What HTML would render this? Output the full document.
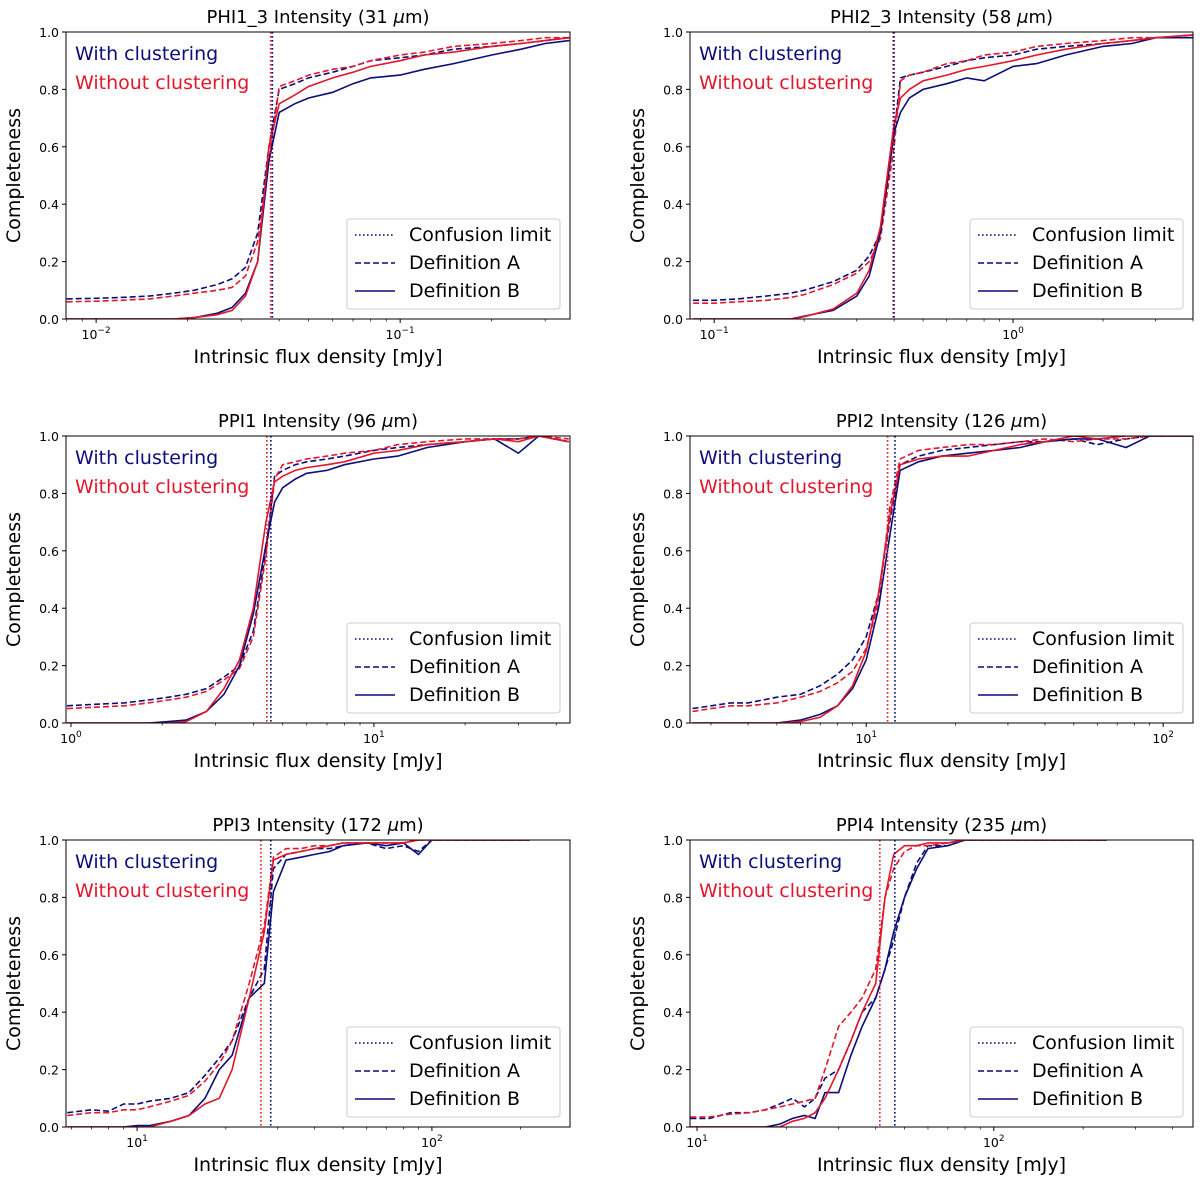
<!DOCTYPE html>
<html><head><meta charset="utf-8">
<style>
html,body{margin:0;padding:0;background:#fff;}
svg{display:block;font-family:"DejaVu Sans","Liberation Sans",sans-serif;}
</style></head>
<body>
<svg id="fig" width="1200" height="1181" viewBox="0 0 1200 1181" xmlns="http://www.w3.org/2000/svg"></svg>
<script>
const panelNames=["PHI1_3 Intensity (31 ","PHI2_3 Intensity (58 ","PPI1 Intensity (96 ","PPI2 Intensity (126 ","PPI3 Intensity (172 ","PPI4 Intensity (235 "];
const xDomains=[[0.00796,0.362],[0.083,4.0],[0.963,44.4],[2.55,126],[5.74,294],[9.47,469]];
const majorTicks=[[-2,-1],[-1,0],[0,1],[1,2],[1,2],[1,2]];
const confBlue=[0.038,0.40,4.57,12.5,28.4,46.4];
const confRed=[0.0375,0.397,4.43,11.8,26.3,41.3];
const yTicks=[0,0.2,0.4,0.6,0.8,1.0];

const xs1=[0.008,0.01,0.012,0.015,0.018,0.021,0.025,0.028,0.031,0.034,0.037,0.04,0.045,0.05,0.06,0.07,0.08,0.1,0.12,0.15,0.2,0.25,0.3,0.36];
const bA1=[.07,.072,.075,.08,.09,.1,.12,.14,.18,.3,.6,.8,.82,.84,.86,.88,.9,.91,.92,.94,.95,.96,.97,.98];
const rA1=[.06,.062,.065,.07,.08,.09,.1,.11,.15,.27,.55,.81,.83,.85,.87,.88,.9,.92,.93,.95,.96,.97,.98,.98];
const bB1=[0,0,0,0,0,.005,.02,.04,.09,.2,.55,.72,.75,.77,.79,.82,.84,.85,.87,.89,.92,.94,.96,.97];
const rB1=[0,0,0,0,0,.005,.015,.03,.08,.2,.6,.75,.78,.81,.84,.86,.88,.9,.92,.93,.95,.96,.97,.98];

const xs2=[0.085,0.1,0.12,0.15,0.18,0.2,0.25,0.3,0.33,0.36,0.4,0.42,0.45,0.5,0.6,0.7,0.8,1,1.2,1.5,2,2.5,3,4];
const bA2=[.065,.065,.07,.08,.09,.1,.13,.17,.22,.3,.65,.84,.85,.86,.88,.9,.91,.92,.94,.95,.96,.97,.98,.98];
const rA2=[.055,.055,.06,.065,.075,.085,.12,.16,.2,.28,.6,.83,.85,.86,.89,.9,.92,.93,.95,.96,.97,.98,.98,.99];
const bB2=[0,0,0,0,0,.01,.03,.08,.15,.3,.65,.72,.77,.8,.82,.84,.83,.88,.89,.92,.95,.96,.98,.98];
const rB2=[0,0,0,0,0,.008,.035,.09,.17,.32,.68,.77,.8,.83,.85,.87,.88,.9,.92,.94,.96,.97,.98,.99];

const xs3=[0.97,1.2,1.5,1.8,2.1,2.4,2.8,3.2,3.6,4,4.4,4.7,5,5.5,6,7,8,10,12,15,20,25,30,35,44];
const bA3=[.06,.065,.07,.08,.09,.1,.12,.16,.2,.32,.6,.86,.88,.9,.91,.92,.93,.95,.96,.97,.98,.99,.99,1,.98];
const rA3=[.05,.055,.06,.07,.08,.09,.11,.15,.19,.3,.58,.85,.9,.91,.92,.93,.94,.95,.97,.98,.99,.99,.99,1,.99];
const bB3=[0,0,0,0,.005,.01,.04,.1,.2,.38,.62,.77,.82,.85,.87,.88,.9,.92,.93,.96,.98,.99,.94,1,.98];
const rB3=[0,0,0,0,0,.005,.04,.12,.22,.4,.7,.84,.86,.88,.89,.9,.91,.94,.95,.97,.98,.99,.98,1,.98];

const xs4=[2.6,3,3.5,4,5,6,7,8,9,10,11,12,13,15,18,22,27,33,40,50,60,75,90,110,126];
const bA4=[.05,.06,.07,.07,.09,.1,.13,.17,.22,.3,.45,.7,.9,.93,.95,.96,.97,.98,.98,.99,.97,.99,1,1,1];
const rA4=[.04,.05,.06,.06,.07,.09,.11,.14,.18,.26,.42,.75,.92,.95,.96,.97,.97,.98,.99,.98,.99,.99,1,1,1];
const bB4=[0,0,0,0,0,.01,.03,.06,.12,.22,.4,.65,.88,.91,.93,.94,.95,.96,.98,.99,.99,.96,1,1,1];
const rB4=[0,0,0,0,0,.005,.02,.06,.13,.25,.45,.72,.9,.92,.93,.93,.95,.97,.98,1,.99,1,1,1,1];

const xs5=[5.8,7,8,9,10,11,13,15,17,19,21,24,27,29,32,36,40,45,50,60,70,80,90,100,150,214];
const bA5=[.05,.06,.055,.08,.08,.09,.1,.12,.18,.24,.3,.45,.55,.9,.95,.96,.97,.97,.98,.99,.97,.98,.96,1,1,1];
const bB5=[0,0,0,0,.005,.005,.02,.04,.1,.2,.25,.45,.5,.82,.93,.94,.95,.96,.98,.99,.98,.99,.95,1,1,1];
const rA5=[.04,.05,.05,.06,.06,.07,.09,.11,.16,.22,.3,.5,.7,.94,.97,.97,.98,.98,.99,.99,.99,.99,1,1,1,1];
const rB5=[0,0,0,0,0,0,.02,.04,.08,.1,.2,.45,.68,.93,.95,.96,.97,.98,.99,.99,.99,.99,1,1,1,1];

const xs6=[9.5,11,13,15,17,19,21,23,25,27,30,33,36,40,43,46,50,55,60,70,80,100,150,240];
const bA6=[.03,.03,.05,.05,.06,.08,.1,.07,.1,.17,.2,.3,.4,.45,.55,.65,.8,.92,.98,.98,1,1,1,1];
const bB6=[0,0,0,0,0,.01,.03,.04,.03,.12,.12,.25,.35,.45,.55,.68,.8,.9,.97,.98,1,1,1,1];
const rA6=[.035,.035,.045,.05,.06,.07,.08,.09,.1,.2,.35,.4,.45,.55,.8,.9,.96,.98,.98,.99,1,1,1,1];
const rB6=[0,0,0,0,0,0,.02,.03,.05,.1,.2,.3,.4,.5,.8,.95,.98,.98,.99,.99,1,1,1,1];

const panelX=[xs1,xs2,xs3,xs4,xs5,xs6];
const panelBA=[bA1,bA2,bA3,bA4,bA5,bA6];
const panelBB=[bB1,bB2,bB3,bB4,bB5,bB6];
const panelRA=[rA1,rA2,rA3,rA4,rA5,rA6];
const panelRB=[rB1,rB2,rB3,rB4,rB5,rB6];

const BLUE="#0c0c7a", RED="#e3172b";
const NS="http://www.w3.org/2000/svg";
const svg=document.getElementById('fig');
function mk(tag,attrs,parent){const e=document.createElementNS(NS,tag);for(const k in attrs)e.setAttribute(k,attrs[k]);(parent||svg).appendChild(e);return e;}

const lefts=[66,690], tops=[32,436,840], H=287;
for(let p=0;p<6;p++){
  const x0=lefts[p%2], y0=tops[Math.floor(p/2)], w=(p%2?503:504);
  const [d0,d1]=xDomains[p];
  const l0=Math.log10(d0), l1=Math.log10(d1);
  const X=v=>x0+(Math.log10(v)-l0)/(l1-l0)*w;
  const Y=v=>y0+H-v*H;
  const g=mk('g',{});
  
  
  const clipId='clip'+p;
  const cp=mk('clipPath',{id:clipId},g); mk('rect',{x:x0,y:y0,width:w,height:H},cp);
  const t=mk('text',{x:x0+w/2,y:y0-9,'text-anchor':'middle','font-size':18,fill:'#000'},g);
  
  
  const t1=mk('tspan',{},t);t1.textContent=panelNames[p];
  const t2=mk('tspan',{'font-style':'italic'},t);t2.textContent='μ';
  const t3=mk('tspan',{},t);t3.textContent='m)';
  yTicks.forEach(v=>{
    mk('line',{x1:x0-4,x2:x0,y1:Y(v),y2:Y(v),stroke:'#000','stroke-width':1},g);
    const tl=mk('text',{x:x0-7,y:Y(v)+5,'text-anchor':'end','font-size':12.5},g);
    tl.textContent=v.toFixed(1);
    
    
  });
  for(let dec=Math.floor(l0);dec<=Math.ceil(l1);dec++){
    for(let m=1;m<10;m++){
      const v=m*Math.pow(10,dec); const lv=Math.log10(v);
      if(lv<l0-1e-9||lv>l1+1e-9)continue;
      const px=X(v);
      mk('line',{x1:px,x2:px,y1:y0+H,y2:y0+H+(m===1?4:2.5),stroke:'#000','stroke-width':(m===1?1:0.7)},g);
    }
  }
  majorTicks[p].forEach(e=>{
    const px=X(Math.pow(10,e));
    const tl=mk('text',{x:px,y:y0+H+20,'text-anchor':'middle','font-size':12.5},g);
    
    
    const a=mk('tspan',{},tl);a.textContent='10';
    const b=mk('tspan',{dy:-6,'font-size':9},tl);b.textContent=String(e).replace('-','−');
  });
  const xl=mk('text',{x:x0+w/2,y:y0+H+44,'text-anchor':'middle','font-size':19},g);
  xl.textContent='Intrinsic flux density [mJy]';
  
  
  const yl=mk('text',{x:0,y:0,'text-anchor':'middle','font-size':19,transform:`translate(${x0-46},${y0+H/2}) rotate(-90)`},g);
  yl.textContent='Completeness';
  
  
  const data=g.appendChild(document.createElementNS(NS,'g'));
  data.setAttribute('clip-path',`url(#${clipId})`);
  const series=[[panelBA[p],BLUE,'6,3','blue-definition-a'],[panelRA[p],RED,'6,3','red-definition-a'],[panelBB[p],BLUE,null,'blue-definition-b'],[panelRB[p],RED,null,'red-definition-b']];
  series.forEach(([ys,col,dash,name])=>{
    const pts=panelX[p].slice(0,ys.length).map((xv,i)=>X(xv).toFixed(1)+','+Y(ys[i]).toFixed(1)).join(' ');
    const pl=mk('polyline',{points:pts,fill:'none',stroke:col,'stroke-width':1.6},data);
    if(dash)pl.setAttribute('stroke-dasharray',dash);
    
    
  });
  [[confRed[p],RED,'confusion-limit-red'],[confBlue[p],BLUE,'confusion-limit-blue']].forEach(([v,col,name])=>{
    const l=mk('line',{x1:X(v),x2:X(v),y1:y0,y2:y0+H,stroke:col,'stroke-width':1.6,'stroke-dasharray':'1.6,2.4'},data);
    
    
  });
  mk('rect',{x:x0,y:y0,width:w,height:H,fill:'none',stroke:'#000','stroke-width':1},g);
  const wc=mk('text',{x:x0+9,y:y0+28,'font-size':19,fill:BLUE},g);wc.textContent='With clustering';
  
  
  const wo=mk('text',{x:x0+9,y:y0+57,'font-size':19,fill:RED},g);wo.textContent='Without clustering';
  
  
  const lg=mk('g',{},g);
  
  
  const lx=x0+w-223, ly=y0+H-100;
  mk('rect',{x:lx,y:ly,width:213,height:90,rx:3,fill:'#fff',stroke:'#ccc','stroke-width':1},lg);
  [['Confusion limit','1.6,2.4'],['Definition A','6,3'],['Definition B',null]].forEach(([lab,dash],i)=>{
    const yy=ly+16+i*28;
    const ln=mk('line',{x1:lx+8,x2:lx+48,y1:yy,y2:yy,stroke:BLUE,'stroke-width':1.6},lg);
    if(dash)ln.setAttribute('stroke-dasharray',dash);
    const tx=mk('text',{x:lx+62,y:yy+6,'font-size':19},lg);tx.textContent=lab;
    
    
  });
}
</script>
</body></html>
